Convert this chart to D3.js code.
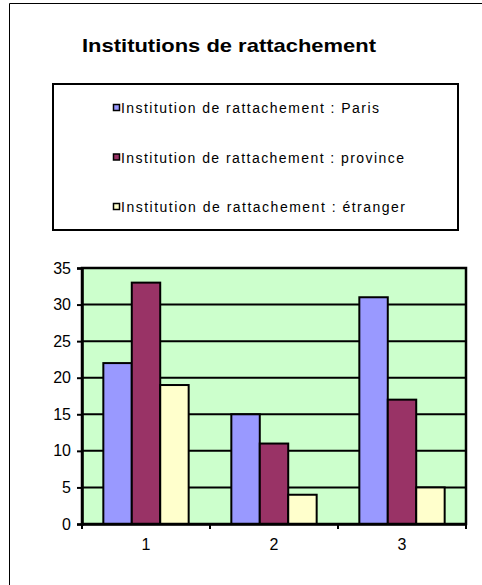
<!DOCTYPE html>
<html>
<head>
<meta charset="utf-8">
<script src="https://cdn.jsdelivr.net/npm/d3@7"></script>
<style>
  body { margin: 0; background: #fff; }
  text { font-family: "Liberation Sans", Arial, sans-serif; fill: #000; }
</style>
</head>
<body>
<div id="chart"></div>
<script>
// data
var categories = ["1", "2", "3"];
var seriesNames = [
  "Institution de rattachement : Paris",
  "Institution de rattachement : province",
  "Institution de rattachement : étranger"
];
var paris    = [22, 15, 31];
var province = [33, 11, 17];
var etranger = [19, 4, 5];
var yTicks = [0, 5, 10, 15, 20, 25, 30, 35];
var colors = ["#9999ff", "#993366", "#ffffcc"];
// rendered width of each legend label in the original (stretched spacing)
var legendTextLen = [258, 283, 284];

var series = [paris, province, etranger];

var W = 482, H = 585;
var margin = {top: 268, right: 16, bottom: 61, left: 82},
    width = W - margin.left - margin.right,
    height = H - margin.top - margin.bottom;

var svg = d3.select("#chart")
  .append("svg")
    .attr("width", W)
    .attr("height", H);

// outer frame (only top and left edges visible)
svg.append("path")
  .attr("d", "M9.5," + H + "V3.5H" + W)
  .attr("fill", "none")
  .attr("stroke", "#000")
  .attr("stroke-width", 1);

// title
svg.append("text")
  .attr("x", 82)
  .attr("y", 52)
  .attr("font-size", "19px")
  .attr("font-weight", "bold")
  .attr("textLength", 294)
  .attr("lengthAdjust", "spacingAndGlyphs")
  .text("Institutions de rattachement");

// legend
var legend = svg.append("g");
legend.append("rect")
  .attr("x", 53).attr("y", 84)
  .attr("width", 405).attr("height", 146)
  .attr("fill", "#fff")
  .attr("stroke", "#000")
  .attr("stroke-width", 2);

var legendY = d3.scalePoint().domain(seriesNames).range([108, 207]);
var item = legend.selectAll(".item")
  .data(seriesNames)
  .enter().append("g")
    .attr("class", "item")
    .attr("transform", function(d) { return "translate(0," + legendY(d) + ")"; });
item.append("rect")
  .attr("x", 113.5).attr("y", -3.5)
  .attr("width", 6).attr("height", 6)
  .attr("fill", function(d, i) { return colors[i]; })
  .attr("stroke", "#000")
  .attr("stroke-width", 1.5);
item.append("text")
  .attr("x", 121)
  .attr("y", 5)
  .attr("font-size", "14px")
  .attr("textLength", function(d, i) { return legendTextLen[i]; })
  .attr("lengthAdjust", "spacing")
  .text(function(d) { return d; });

var g = svg.append("g")
  .attr("transform", "translate(" + margin.left + "," + margin.top + ")");

// scales
var x = d3.scaleBand().domain(categories).range([0, width]).padding(0);
var xInner = d3.scaleBand().domain(d3.range(series.length))
  .range([0, x.bandwidth()]).paddingInner(0).paddingOuter(0.75);
var y = d3.scaleLinear().domain([0, 35]).range([height, 0]);

// plot background
g.append("rect")
  .attr("width", width).attr("height", height)
  .attr("fill", "#ccffcc");

// gridlines
g.selectAll(".grid")
  .data(yTicks.filter(function(t) { return t > 0 && t < 35; }))
  .enter().append("line")
    .attr("x1", 0).attr("x2", width)
    .attr("y1", function(d) { return y(d); })
    .attr("y2", function(d) { return y(d); })
    .attr("stroke", "#000")
    .attr("stroke-width", 2);

// bars
var rows = categories.map(function(c, i) {
  return series.map(function(s, j) { return {cat: c, k: j, value: s[i]}; });
});
g.selectAll(".cat")
  .data(rows)
  .enter().append("g")
    .attr("transform", function(d, i) { return "translate(" + x(categories[i]) + ",0)"; })
  .selectAll("rect")
  .data(function(d) { return d; })
  .enter().append("rect")
    .attr("x", function(d) { return xInner(d.k); })
    .attr("y", function(d) { return y(d.value); })
    .attr("width", xInner.bandwidth())
    .attr("height", function(d) { return height - y(d.value); })
    .attr("fill", function(d) { return colors[d.k]; })
    .attr("stroke", "#000")
    .attr("stroke-width", 2);

// plot border
g.append("rect")
  .attr("width", width).attr("height", height)
  .attr("fill", "none")
  .attr("stroke", "#000")
  .attr("stroke-width", 2.5);

// y axis
var yAxis = g.append("g")
  .call(d3.axisLeft(y).tickValues(yTicks).tickSize(5).tickPadding(6));
yAxis.select(".domain").attr("stroke-width", 2.5);
yAxis.selectAll(".tick line").attr("stroke-width", 2);
yAxis.selectAll("text")
  .attr("font-size", "16px")
  .style("font-family", "Liberation Sans, Arial, sans-serif");

// x axis: labels at centres, ticks at category boundaries
var xAxis = g.append("g")
  .attr("transform", "translate(0," + height + ")")
  .call(d3.axisBottom(x).tickSize(0).tickPadding(15));
xAxis.select(".domain").attr("stroke-width", 2.5);
xAxis.selectAll("text")
  .attr("font-size", "16px")
  .style("font-family", "Liberation Sans, Arial, sans-serif");
xAxis.selectAll(".bound")
  .data(categories.map(function(c) { return x(c); }).concat([width]))
  .enter().append("line")
    .attr("x1", function(d) { return d; })
    .attr("x2", function(d) { return d; })
    .attr("y1", 0).attr("y2", 5)
    .attr("stroke", "#000")
    .attr("stroke-width", 2);
</script>
</body>
</html>
